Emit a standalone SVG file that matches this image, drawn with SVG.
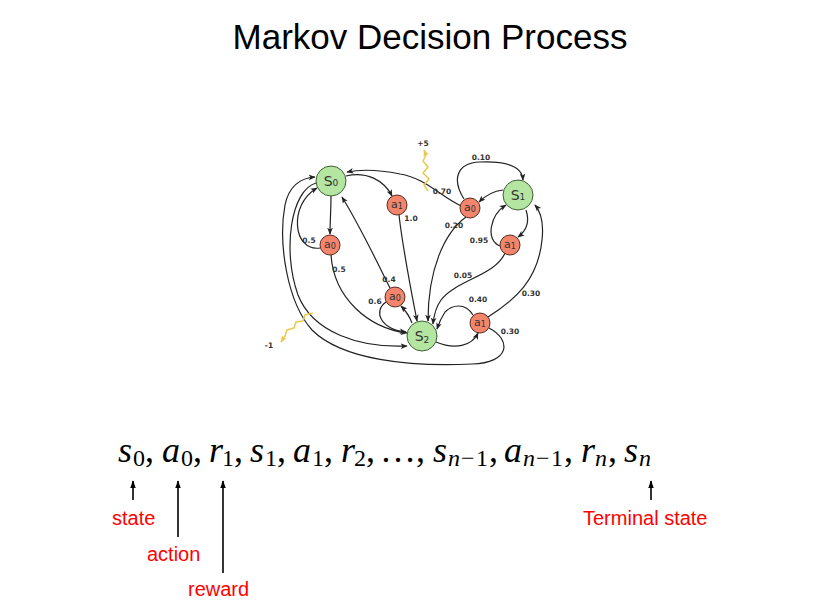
<svg xmlns="http://www.w3.org/2000/svg" width="825" height="612" viewBox="0 0 825 612">
<defs>
<style>
.title{font-family:"Liberation Sans",Arial,sans-serif;font-size:35px;fill:#000}
.st{fill:#b5e6a1;stroke:#3d5f36;stroke-width:1}
.ac{fill:#f2856b;stroke:#5a2a20;stroke-width:1}
.nl{font-family:"DejaVu Sans",sans-serif;fill:#333;text-anchor:middle}
.el{font-family:"DejaVu Sans",sans-serif;font-weight:bold;font-size:7.5px;fill:#333;text-anchor:middle}
.e{fill:none;stroke:#222;stroke-width:1.2;marker-end:url(#ga)}
.rw{fill:none;stroke:#e9c84c;stroke-width:1.5;stroke-linejoin:round;marker-end:url(#ya)}
.m{font-family:"Liberation Serif","Times New Roman",serif;font-style:italic;font-size:36px;fill:#000}
.sub{font-family:"Liberation Serif","Times New Roman",serif;font-size:24px;fill:#000}
.subi{font-family:"Liberation Serif","Times New Roman",serif;font-style:italic;font-size:24px;fill:#000}
.cm{font-family:"Liberation Serif","Times New Roman",serif;font-size:36px;fill:#000}
.red{font-family:"Liberation Sans",Arial,sans-serif;font-size:20px;fill:#ff0000}
.ba{stroke:#000;stroke-width:1.6;marker-end:url(#ba)}
</style>
<marker id="ga" viewBox="0 0 10 10" refX="9" refY="5" markerWidth="7" markerHeight="7" markerUnits="userSpaceOnUse" orient="auto"><path d="M0,1 L10,5 L0,9 L2.5,5 z" fill="#222"/></marker>
<marker id="ya" viewBox="0 0 10 10" refX="9" refY="5" markerWidth="7" markerHeight="7" markerUnits="userSpaceOnUse" orient="auto"><path d="M0,1 L10,5 L0,9 L2.5,5 z" fill="#e9c84c"/></marker>
<marker id="ba" viewBox="0 0 10 10" refX="9" refY="5" markerWidth="8" markerHeight="8" markerUnits="userSpaceOnUse" orient="auto"><path d="M0,1.5 L10,5 L0,8.5 z" fill="#000"/></marker>
</defs>
<rect width="825" height="612" fill="#fff"/>
<text class="title" x="430" y="49" text-anchor="middle">Markov Decision Process</text>

<g id="connectors">
<path class="e" d="M346,176 C366,171 384,180 392,196"/>
<path class="e" d="M399,215 C403,250 411,290 417,321"/>
<path class="e" d="M331,196 C331,210 330,222 330,234"/>
<path class="e" d="M320,248 C293,252 288,205 317,188"/>
<path class="e" d="M331,255 C334,298 368,328 407,333"/>
<path class="e" d="M316,183 C291,190 282,250 298,295 C313,333 360,348 407,346"/>
<path class="e" d="M489,328 C512,340 510,363 472,364 C410,367 342,360 312,330 C287,302 278,243 285,205 C289,186 300,178 315,177"/>
<path class="e" d="M461,206 C440,196 425,178 400,174 C380,170 362,169 347,172"/>
<path class="e" d="M464,199 C452,180 456,163 480,162 C505,161 522,165 523,180"/>
<path class="e" d="M503,190 C494,191 485,196 479,202"/>
<path class="e" d="M466,217 C444,233 428,270 428,321"/>
<path class="e" d="M526,210 C530,222 526,231 518,237"/>
<path class="e" d="M500,246 C485,240 490,215 506,205"/>
<path class="e" d="M505,253 C495,276 456,280 441,300 C436,307 434,314 433,324"/>
<path class="e" d="M390,288 C378,264 360,226 342,197"/>
<path class="e" d="M386,302 C373,311 380,329 406,332"/>
<path class="e" d="M412,323 C409,315 405,310 401,306"/>
<path class="e" d="M436,342 C455,350 472,346 478,333"/>
<path class="e" d="M473,315 C465,302 452,305 445,312 C441,318 439,323 437,329"/>
<path class="e" d="M488,317 C515,300 538,280 542,240 C544,222 541,212 535,205"/>
<polyline class="rw" points="428,191 424,185 429,179 423,173 428,167 423,161 426,155 424,150"/>
<polyline class="rw" points="313,313 305,315 303,321 296,322 294,328 287,330 285,336 281,342"/>
</g>

<g id="edge-labels">
<text class="el" x="423" y="146">+5</text>
<text class="el" x="481" y="160">0.10</text>
<text class="el" x="442" y="194">0.70</text>
<text class="el" x="411" y="221">1.0</text>
<text class="el" x="454" y="228">0.20</text>
<text class="el" x="309" y="243">0.5</text>
<text class="el" x="479" y="243">0.95</text>
<text class="el" x="339" y="272">0.5</text>
<text class="el" x="463" y="278">0.05</text>
<text class="el" x="389" y="282">0.4</text>
<text class="el" x="478" y="302">0.40</text>
<text class="el" x="375" y="304">0.6</text>
<text class="el" x="531" y="296">0.30</text>
<text class="el" x="510" y="334">0.30</text>
<text class="el" x="269" y="348">-1</text>
</g>

<g id="S0"><circle class="st" cx="331" cy="181" r="15"/><text class="nl" x="331" y="186" font-size="14">S<tspan font-size="9">0</tspan></text></g>
<g id="S1"><circle class="st" cx="518" cy="195" r="15"/><text class="nl" x="518" y="200" font-size="14">S<tspan font-size="9">1</tspan></text></g>
<g id="S2"><circle class="st" cx="422" cy="336" r="15"/><text class="nl" x="422" y="341" font-size="14">S<tspan font-size="9" dy="2">2</tspan></text></g>
<g id="a1_s0"><circle class="ac" cx="397" cy="205" r="10"/><text class="nl" x="397" y="208" font-size="11">a<tspan font-size="8" dy="1">1</tspan></text></g>
<g id="a0_s0"><circle class="ac" cx="330" cy="245" r="10"/><text class="nl" x="330" y="248" font-size="11">a<tspan font-size="8" dy="1">0</tspan></text></g>
<g id="a0_s1"><circle class="ac" cx="470" cy="208" r="10"/><text class="nl" x="470" y="211" font-size="11">a<tspan font-size="8" dy="1">0</tspan></text></g>
<g id="a1_s1"><circle class="ac" cx="510" cy="245" r="10"/><text class="nl" x="510" y="248" font-size="11">a<tspan font-size="8" dy="1">1</tspan></text></g>
<g id="a0_s2"><circle class="ac" cx="395" cy="297" r="10"/><text class="nl" x="395" y="300" font-size="11">a<tspan font-size="8" dy="1">0</tspan></text></g>
<g id="a1_s2"><circle class="ac" cx="480" cy="323" r="10"/><text class="nl" x="480" y="326" font-size="11">a<tspan font-size="8" dy="1">1</tspan></text></g>

<g id="sequence">
<text class="m" x="118" y="462">s</text><text class="sub" x="133" y="466">0</text><text class="cm" x="145" y="462">,</text>
<text class="m" x="162" y="462">a</text><text class="sub" x="181" y="466">0</text><text class="cm" x="193" y="462">,</text>
<text class="m" x="209" y="462">r</text><text class="sub" x="222" y="466">1</text><text class="cm" x="234" y="462">,</text>
<text class="m" x="250" y="462">s</text><text class="sub" x="265" y="466">1</text><text class="cm" x="277" y="462">,</text>
<text class="m" x="293" y="462">a</text><text class="sub" x="312" y="466">1</text><text class="cm" x="324" y="462">,</text>
<text class="m" x="341" y="462">r</text><text class="sub" x="354" y="466">2</text><text class="cm" x="366" y="462">,</text>
<text class="cm" x="380" y="462">…,</text>
<text class="m" x="433" y="462">s</text><text class="subi" x="448" y="466">n</text><text class="sub" x="461" y="466">−</text><text class="sub" x="476" y="466">1</text><text class="cm" x="489" y="462">,</text>
<text class="m" x="504" y="462">a</text><text class="subi" x="523" y="466">n</text><text class="sub" x="536" y="466">−</text><text class="sub" x="551" y="466">1</text><text class="cm" x="564" y="462">,</text>
<text class="m" x="581" y="462">r</text><text class="subi" x="595" y="466">n</text><text class="cm" x="608" y="462">,</text>
<text class="m" x="624" y="462">s</text><text class="subi" x="639" y="466">n</text>
</g>

<g id="annotations">
<line class="ba" x1="133" y1="500" x2="133" y2="481"/>
<line class="ba" x1="178" y1="537" x2="178" y2="481"/>
<line class="ba" x1="223" y1="573" x2="223" y2="481"/>
<line class="ba" x1="651" y1="500" x2="651" y2="481"/>
<text class="red" x="112" y="525">state</text>
<text class="red" x="147" y="561">action</text>
<text class="red" x="188" y="596">reward</text>
<text class="red" x="583" y="525">Terminal state</text>
</g>
</svg>
